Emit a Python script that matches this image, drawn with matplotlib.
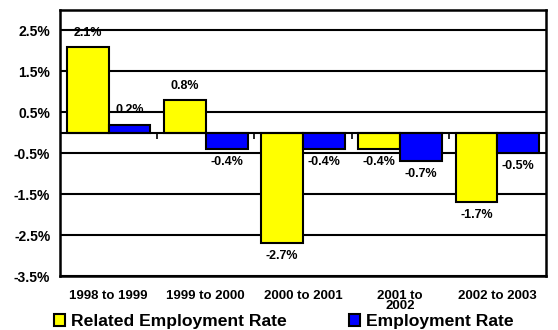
import numpy as np
import matplotlib.pyplot as plt
from matplotlib.patches import Patch

# values (percent)
periods = ["1998 to 1999", "1999 to 2000", "2000 to 2001", "2001 to\n2002", "2002 to 2003"]
related_rate = [2.1, 0.8, -2.7, -0.4, -1.7]
employment_rate = [0.2, -0.4, -0.4, -0.7, -0.5]
yticks = [-3.5, -2.5, -1.5, -0.5, 0.5, 1.5, 2.5]

plt.rcParams["font.family"] = ["Liberation Sans", "DejaVu Sans"]
plt.rcParams["font.weight"] = "bold"

fig = plt.figure(figsize=(5.58, 3.30), dpi=100)
ax = fig.add_axes([0.1075, 0.1636, 0.871, 0.806])

x = np.arange(len(periods))
w = 0.43
bars1 = ax.bar(x - w / 2, related_rate, w, color="#ffff00", edgecolor="black", linewidth=1.5, zorder=3)
bars2 = ax.bar(x + w / 2, employment_rate, w, color="#0000ff", edgecolor="black", linewidth=1.5, zorder=3)

# value labels
for bars, vals in [(bars1, related_rate), (bars2, employment_rate)]:
    for b, v in zip(bars, vals):
        cx = b.get_x() + b.get_width() / 2
        if v >= 0:
            ax.annotate(f"{v:.1f}%", (cx, v), xytext=(0, 6), textcoords="offset points",
                        ha="center", va="bottom", fontsize=9, fontweight="bold", zorder=4)
        else:
            ax.annotate(f"{v:.1f}%", (cx, v), xytext=(0, -5), textcoords="offset points",
                        ha="center", va="top", fontsize=9, fontweight="bold", zorder=4)

ax.set_ylim(-3.5, 3.0)
ax.set_xlim(-0.5, len(periods) - 0.5)
ax.set_yticks(yticks)
ax.set_yticklabels([f"{t:.1f}%" for t in yticks], fontsize=10, fontweight="bold")
for t in yticks:
    ax.axhline(t, color="black", linewidth=1.5, zorder=1)
ax.axhline(0, color="black", linewidth=1.5, zorder=4)
# small category separators on the zero line
ax.vlines(x[:-1] + 0.5, -0.15, 0, color="black", linewidth=1.2, zorder=4)

ax.set_xticks(x)
ax.set_xticklabels(periods, fontsize=9.5, fontweight="bold", linespacing=0.8, va="top")
ax.tick_params(axis="x", length=0, pad=10)
ax.tick_params(axis="y", length=0, pad=7)
for s in ax.spines.values():
    s.set_linewidth(1.8)

handles = [Patch(facecolor="#ffff00", edgecolor="black", linewidth=1.5, label="Related Employment Rate"),
           Patch(facecolor="#0000ff", edgecolor="black", linewidth=1.5, label="Employment Rate")]
fig.legend(handles=handles, loc="lower left", bbox_to_anchor=(0.068, -0.045), ncol=2, frameon=False,
           prop={"size": 12.6, "weight": "bold"}, handlelength=0.62, handleheight=0.62,
           handletextpad=0.35, columnspacing=3.6)

fig.savefig("out.png", dpi=100)
